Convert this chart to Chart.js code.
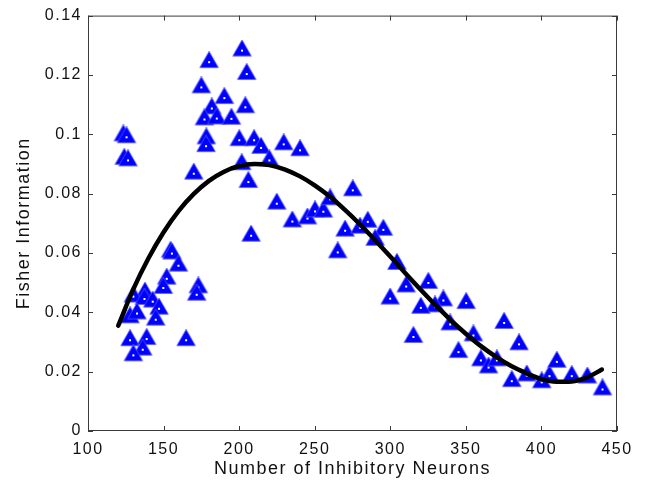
<!DOCTYPE html>
<html>
<head>
<meta charset="utf-8">
<script src="https://cdn.jsdelivr.net/npm/chart.js@4/dist/chart.umd.min.js"></script>
<style>
  html, body { margin: 0; padding: 0; background: #fff; }
  #wrap { width: 646px; height: 490px; }
</style>
</head>
<body>
<div id="wrap"><canvas id="c" width="646" height="490"></canvas></div>
<script>
// Simulated network: Fisher information versus inhibitory population size
const neuronCounts = [123.4,125.5,124,126.5,154.7,155.5,159.8,152.1,149.8,173,171.9,137.7,130,137.3,142.8,147,144.8,127.8,132.4,127.8,138.8,136.2,130,164.9,
  201.9,180.1,205,175,190.2,204.1,181.9,177,185.2,194.9,178.3,178.1,200.1,209.9,214.5,201.7,220,206.1,229.5,240.3,170,207.9,
  224.9,235.2,245.2,250.2,255.7,260.2,275.2,270.1,280,285.1,295.4,290,265.2,304.4,299.9,325.2,310.5,335.1,350.2,329.6,320.2,339.6,375.3,315.3,355,345.1,385.2,359.9,365,370.5,380.4,390.3,400.2,405.3,410.2,420.1,430.4,440.4];
const fisherInfo = [0.0996,0.0990,0.0917,0.0912,0.0604,0.0598,0.0557,0.0513,0.0482,0.0484,0.0459,0.0466,0.0453,0.0445,0.0436,0.0412,0.0375,0.0383,0.0396,0.0306,0.0310,0.0274,0.0255,0.0306,
  0.1282,0.1243,0.1203,0.1158,0.1122,0.1091,0.1087,0.1050,0.1053,0.1052,0.0986,0.0960,0.0980,0.0980,0.0954,0.0899,0.0912,0.0839,0.0966,0.0946,0.0867,0.0658,
  0.0766,0.0706,0.0716,0.0740,0.0739,0.0781,0.0811,0.0675,0.0685,0.0705,0.0678,0.0644,0.0602,0.0563,0.0446,0.0499,0.0487,0.0440,0.0431,0.0420,0.0415,0.0359,0.0364,0.0317,0.0322,0.0266,0.0292,0.0238,0.0214,0.0238,0.0168,0.0187,0.0164,0.0185,0.0233,0.0185,0.0180,0.0140];

// Fitted trend curve
const fitX = [120,130,140,150,160,170,180,190,200,210,220,230,240,250,260,270,280,290,300,310,320,330,340,350,360,370,380,390,400,410,420,430,440];
const fitY = [0.0355,0.0478,0.0582,0.0670,0.0742,0.0799,0.0843,0.0874,0.0893,0.0900,0.0896,0.0882,0.0859,0.0828,0.0790,0.0745,0.0696,0.0643,0.0588,0.0532,0.0477,0.0424,0.0374,0.0328,0.0286,0.0250,0.0219,0.0195,0.0175,0.0166,0.0167,0.0180,0.0207];

const xTicks = [100,150,200,250,300,350,400,450];
const yTicks = [0,0.02,0.04,0.06,0.08,0.1,0.12,0.14];

// Triangle marker with a small white centre dot
function makeMarker() {
  const c = document.createElement('canvas');
  c.width = 22; c.height = 22;
  const g = c.getContext('2d');
  const cx = 11, cy = 11, h = 16.2, half = 9.3;
  g.beginPath();
  g.moveTo(cx, cy - h * 2 / 3);
  g.lineTo(cx + half, cy + h / 3);
  g.lineTo(cx - half, cy + h / 3);
  g.closePath();
  g.fillStyle = '#0000ff';
  g.fill();
  g.strokeStyle = 'rgba(90,90,255,0.9)';
  g.lineWidth = 0.8;
  g.stroke();
  g.fillStyle = '#ffffff';
  g.fillRect(cx - 1, cy - 1, 2, 2);
  return c;
}
const marker = makeMarker();

const points = neuronCounts.map((x, i) => ({ x: x, y: fisherInfo[i] }));
const fitPoints = fitX.map((x, i) => ({ x: x, y: fitY[i] }));

const textFont = 'Liberation Sans, Arial, Helvetica, sans-serif';

const framePlugin = {
  id: 'frame',
  beforeDraw(chart) {
    chart.ctx.letterSpacing = '1.5px';
  },
  afterDatasetsDraw(chart) {
    const { ctx, chartArea: a, scales } = chart;
    ctx.save();
    ctx.strokeStyle = '#3a3a3a';
    ctx.lineWidth = 1;
    ctx.strokeRect(a.left + 0.5, a.top + 0.5, a.right - a.left - 1, a.bottom - a.top - 1);
    const tl = 5;
    ctx.beginPath();
    scales.x.ticks.forEach(t => {
      const px = Math.round(scales.x.getPixelForValue(t.value)) + 0.5;
      ctx.moveTo(px, a.bottom); ctx.lineTo(px, a.bottom - tl);
      ctx.moveTo(px, a.top); ctx.lineTo(px, a.top + tl);
    });
    scales.y.ticks.forEach(t => {
      const py = Math.round(scales.y.getPixelForValue(t.value)) + 0.5;
      ctx.moveTo(a.left, py); ctx.lineTo(a.left + tl, py);
      ctx.moveTo(a.right, py); ctx.lineTo(a.right - tl, py);
    });
    ctx.stroke();
    ctx.restore();
  }
};

new Chart(document.getElementById('c'), {
  type: 'scatter',
  data: {
    datasets: [
      {
        type: 'line',
        data: fitPoints,
        borderColor: '#000000',
        borderWidth: 4.5,
        pointRadius: 0,
        cubicInterpolationMode: 'monotone',
        borderCapStyle: 'round',
        borderJoinStyle: 'round',
        fill: false,
        order: 0
      },
      {
        data: points,
        pointStyle: marker,
        pointRadius: 10,
        order: 1
      }
    ]
  },
  options: {
    responsive: false,
    animation: false,
    events: [],
    layout: { padding: { top: 14, right: 29, left: 0, bottom: 0 } },
    plugins: { legend: { display: false }, tooltip: { enabled: false } },
    scales: {
      x: {
        type: 'linear',
        min: 100, max: 450,
        grid: { display: false, drawTicks: false },
        border: { display: false },
        afterBuildTicks: s => { s.ticks = xTicks.map(v => ({ value: v })); },
        afterFit: s => { s.height = 59; },
        ticks: {
          color: '#111',
          font: { family: textFont, size: 16 },
          padding: 9,
          maxRotation: 0,
          autoSkip: false,
          callback: v => String(v)
        },
        title: {
          display: true,
          text: 'Number of Inhibitory Neurons',
          color: '#111',
          font: { family: textFont, size: 18 },
          padding: { top: 0, bottom: 10 }
        }
      },
      y: {
        type: 'linear',
        min: 0, max: 0.14,
        grid: { display: false, drawTicks: false },
        border: { display: false },
        afterBuildTicks: s => { s.ticks = yTicks.map(v => ({ value: v })); },
        afterFit: s => { s.width = 88; },
        ticks: {
          color: '#111',
          font: { family: textFont, size: 16 },
          padding: 6,
          autoSkip: false,
          callback: v => String(+v.toFixed(2))
        },
        title: {
          display: true,
          text: 'Fisher Information',
          color: '#111',
          font: { family: textFont, size: 18 },
          padding: { top: 13, bottom: 0 }
        }
      }
    }
  },
  plugins: [framePlugin]
});
</script>
</body>
</html>
